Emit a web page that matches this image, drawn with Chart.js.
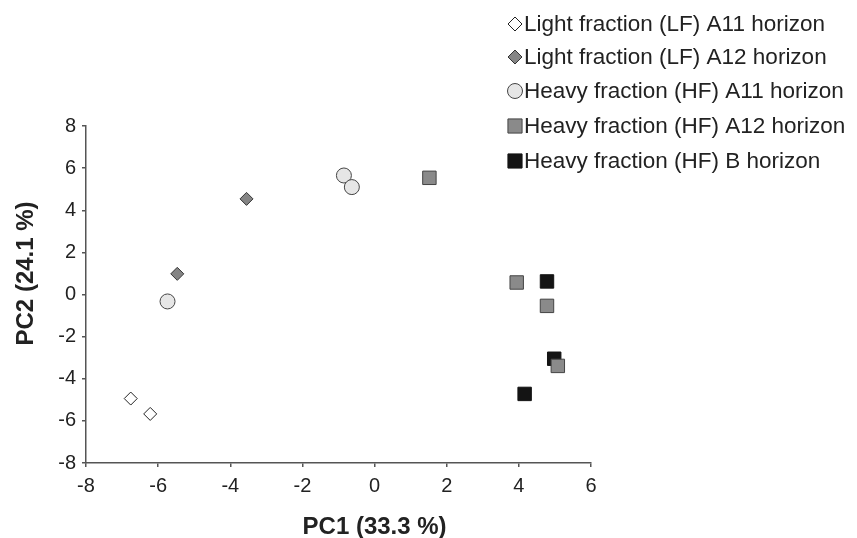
<!DOCTYPE html>
<html>
<head>
<meta charset="utf-8">
<script src="https://cdn.jsdelivr.net/npm/chart.js@4/dist/chart.umd.min.js"></script>
<style>
  html, body { margin: 0; padding: 0; background: #fff; }
  #wrap { width: 857px; height: 538px; position: relative; }
</style>
</head>
<body>
<div id="wrap"><canvas id="c" width="857" height="538"></canvas></div>
<script>
// ---- Data ----
const seriesNames = [
  "Light fraction (LF) A11 horizon",
  "Light fraction (LF) A12 horizon",
  "Heavy fraction (HF) A11 horizon",
  "Heavy fraction (HF) A12 horizon",
  "Heavy fraction (HF) B horizon"
];
const lfA11 = [{x: -6.76, y: -4.94}, {x: -6.22, y: -5.67}];
const lfA12 = [{x: -5.47, y: 0.98}, {x: -3.55, y: 4.54}];
const hfA11 = [{x: -5.74, y: -0.33}, {x: -0.85, y: 5.65}, {x: -0.63, y: 5.10}];
const hfA12 = [{x: 1.52, y: 5.54}, {x: 3.94, y: 0.57}, {x: 4.78, y: -0.54}, {x: 5.08, y: -3.39}];
const hfB   = [{x: 4.78, y: 0.62}, {x: 4.98, y: -3.05}, {x: 4.16, y: -4.72}];
const xTicks = [-8, -6, -4, -2, 0, 2, 4, 6];
const yTicks = [-8, -6, -4, -2, 0, 2, 4, 6, 8];
const xTitle = "PC1 (33.3 %)";
const yTitle = "PC2 (24.1 %)";

const FONT = "'Liberation Sans', Arial, Helvetica, sans-serif";
const TXT = "#222";
const AX = "#555";

const styles = [
  {pointStyle: 'rectRot', bg: '#ffffff', border: '#222', r: 6.5},
  {pointStyle: 'rectRot', bg: '#858585', border: '#333', r: 6.5},
  {pointStyle: 'circle',  bg: '#e6e6e6', border: '#444', r: 7.5},
  {pointStyle: 'rect',    bg: '#8a8a8a', border: '#444', r: 9.5},
  {pointStyle: 'rect',    bg: '#141414', border: '#141414', r: 9.5}
];
const allData = [lfA11, lfA12, hfA11, hfA12, hfB];

const datasets = allData.map((d, i) => ({
  label: seriesNames[i],
  data: d,
  pointStyle: styles[i].pointStyle,
  backgroundColor: styles[i].bg,
  borderColor: styles[i].border,
  pointBackgroundColor: styles[i].bg,
  pointBorderColor: styles[i].border,
  pointBorderWidth: 1,
  pointRadius: styles[i].r,
  pointHoverRadius: styles[i].r,
  showLine: false
}));

function drawMarker(ctx, style, r, x, y) {
  ctx.beginPath();
  if (style === 'circle') {
    ctx.arc(x, y, r, 0, Math.PI * 2);
  } else if (style === 'rectRot') {
    ctx.moveTo(x, y - r); ctx.lineTo(x + r, y); ctx.lineTo(x, y + r); ctx.lineTo(x - r, y);
    ctx.closePath();
  } else {
    const s = Math.SQRT1_2 * r;
    ctx.rect(x - s, y - s, 2 * s, 2 * s);
  }
  ctx.fill(); ctx.stroke();
}

const legendPlugin = {
  id: 'customLegend',
  afterDraw(chart) {
    const ctx = chart.ctx;
    const rows = [24, 57, 91, 126, 161];
    ctx.save();
    ctx.font = "22.5px " + FONT;
    ctx.textBaseline = 'middle';
    ctx.textAlign = 'left';
    seriesNames.forEach((name, i) => {
      const st = styles[i];
      ctx.fillStyle = st.bg; ctx.strokeStyle = st.border; ctx.lineWidth = 1;
      const rr = st.pointStyle === 'rect' ? 10 : (st.pointStyle === 'circle' ? 7.5 : 7);
      drawMarker(ctx, st.pointStyle, rr, 515, rows[i]);
      ctx.fillStyle = TXT;
      ctx.fillText(name, 524, rows[i] + 1);
    });
    ctx.restore();
  }
};

const axisTitlePlugin = {
  id: 'axisTitles',
  afterDraw(chart) {
    const ctx = chart.ctx;
    const xs = chart.scales.x, ys = chart.scales.y;
    ctx.save();
    ctx.font = "bold 24px " + FONT;
    ctx.fillStyle = TXT;
    ctx.textAlign = 'center';
    ctx.textBaseline = 'middle';
    // x title centred under value 0 of the x scale
    ctx.fillText(xTitle, xs.getPixelForValue(0), 527);
    // y title, rotated
    ctx.translate(26, ys.getPixelForValue(1));
    ctx.rotate(-Math.PI / 2);
    ctx.fillText(yTitle, 0, 0);
    ctx.restore();
  }
};

new Chart(document.getElementById('c'), {
  type: 'scatter',
  data: { datasets },
  plugins: [legendPlugin, axisTitlePlugin],
  options: {
    responsive: false,
    animation: false,
    layout: { padding: { left: 0, right: 266, top: 126, bottom: 0 } },
    plugins: { legend: { display: false }, tooltip: { enabled: false } },
    scales: {
      x: {
        type: 'linear', min: -8, max: 6,
        afterBuildTicks(scale) { scale.ticks = xTicks.map(v => ({value: v})); },
        afterFit(scale) { scale.height = 75; },
        ticks: { color: TXT, font: { family: FONT, size: 20 }, padding: 7 },
        grid: { display: true, drawOnChartArea: false, drawTicks: true, tickLength: 4, color: AX, lineWidth: 1.5 },
        border: { display: true, color: AX, width: 1.5 },
        title: { display: false }
      },
      y: {
        type: 'linear', min: -8, max: 8,
        afterBuildTicks(scale) { scale.ticks = yTicks.map(v => ({value: v})); },
        afterFit(scale) { scale.width = 86; },
        ticks: { color: TXT, font: { family: FONT, size: 20 }, padding: 6 },
        grid: { display: true, drawOnChartArea: false, drawTicks: true, tickLength: 4, color: AX, lineWidth: 1.5 },
        border: { display: true, color: AX, width: 1.5 },
        title: { display: false }
      }
    }
  }
});
</script>
</body>
</html>
